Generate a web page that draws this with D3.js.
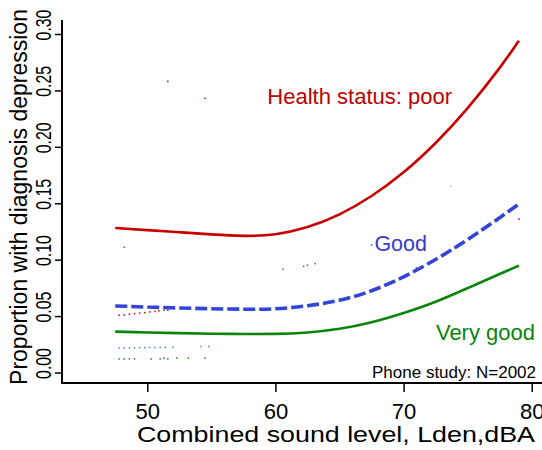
<!DOCTYPE html>
<html>
<head>
<meta charset="utf-8">
<script src="https://cdn.jsdelivr.net/npm/d3@7"></script>
<style>
  html, body { margin: 0; padding: 0; background: #fff; }
  svg { display: block; font-family: "Liberation Sans", Arial, sans-serif; }
</style>
</head>
<body>
<svg id="chart" width="542" height="450"></svg>
<script>
// Sound level (Lden, dBA) at which the fitted proportions are evaluated
const soundLevel = [47.5, 50, 52.5, 55, 57.5, 60, 62.5, 65, 67.5, 70, 72.5, 75, 77.5, 79];

// Fitted proportion with diagnosed depression, by self-rated health status
const poorHealth     = [0.128, 0.1262, 0.1243, 0.1224, 0.1211, 0.1226, 0.1289, 0.1402, 0.1564, 0.1774, 0.2034, 0.2343, 0.270, 0.294];
const goodHealth     = [0.059, 0.058, 0.0572, 0.0565, 0.0561, 0.0565, 0.0592, 0.064, 0.0725, 0.0848, 0.1002, 0.1178, 0.1372, 0.1493];
const veryGoodHealth = [0.0362, 0.0355, 0.0349, 0.0344, 0.0341, 0.0342, 0.0355, 0.0387, 0.0445, 0.0527, 0.0627, 0.0748, 0.0873, 0.0947];

// Faint dotted traces near the low end of the sound range
const poorTraceX = [47.8, 48.2, 48.6, 49.0, 49.4, 49.8, 50.2, 50.6, 50.9, 51.3, 51.6];
const poorTraceY = [0.0507, 0.0510, 0.0517, 0.0522, 0.0527, 0.0531, 0.0537, 0.0541, 0.0546, 0.0551, 0.0554];
const goodTraceX = [47.8, 48.2, 48.6, 49.0, 49.4, 49.8, 50.2, 50.6, 51.0, 51.4, 52.0, 54.2, 54.8];
const goodTraceY = [0.0217, 0.0217, 0.0219, 0.0219, 0.0220, 0.0220, 0.0222, 0.0222, 0.0222, 0.0222, 0.0222, 0.0230, 0.0230];
const veryGoodTraceX = [47.8, 48.2, 48.6, 49.0, 50.3, 51.0, 51.3, 51.6, 52.3, 53.2, 54.5];
const veryGoodTraceY = [0.0120, 0.0120, 0.0120, 0.0120, 0.0120, 0.0120, 0.0128, 0.0120, 0.0128, 0.0128, 0.0128];

// Isolated specks scattered over the plot area
const speckX = [48.2, 51.6, 54.5, 60.6, 62.2, 62.5, 63.1, 67.5, 71.0, 73.7, 79.0];
const speckY = [0.111, 0.258, 0.243, 0.0915, 0.094, 0.095, 0.0965, 0.113, 0.0926, 0.165, 0.136];
const speckColor = ["#1a8a1a", "#b00000", "#b00000", "#1a8a1a", "#1a8a1a", "#1a8a1a", "#1a8a1a", "#1a8a1a", "#b00000", "#9ccf9c", "#b00000"];

// Axis ticks
const xTicks = [50, 60, 70, 80];
const yTicks = [0.00, 0.05, 0.10, 0.15, 0.20, 0.25, 0.30];

const svg = d3.select("#chart");

const x = d3.scaleLinear().domain([50, 80]).range([147.3, 531.7]);
const y = d3.scaleLinear().domain([0, 0.30]).range([372.5, 34]);

const axisLeftX = 62, axisBottomY = 383;

// L-shaped frame
svg.append("line")
  .attr("x1", axisLeftX).attr("x2", axisLeftX)
  .attr("y1", 20).attr("y2", axisBottomY + 1)
  .attr("stroke", "#000").attr("stroke-width", 2);
svg.append("line")
  .attr("x1", axisLeftX - 1).attr("x2", 542)
  .attr("y1", axisBottomY).attr("y2", axisBottomY)
  .attr("stroke", "#000").attr("stroke-width", 2);

// X axis ticks and labels
const xAxis = d3.axisBottom(x).tickValues(xTicks).tickFormat(d3.format("d"))
  .tickSize(9).tickPadding(11);
const gx = svg.append("g").attr("transform", `translate(0,${axisBottomY})`).call(xAxis);
gx.select(".domain").remove();
gx.selectAll(".tick line").attr("stroke", "#000").attr("stroke-width", 1.5);
gx.selectAll(".tick text")
  .attr("font-family", "Liberation Sans, Arial, sans-serif")
  .attr("font-size", 22).attr("fill", "#000");

// Y axis ticks, labels drawn parallel to the axis
const yAxis = d3.axisLeft(y).tickValues(yTicks).tickSize(7).tickFormat("");
const gy = svg.append("g").attr("transform", `translate(${axisLeftX},0)`).call(yAxis);
gy.select(".domain").remove();
gy.selectAll(".tick line").attr("stroke", "#000").attr("stroke-width", 1.5);

svg.append("g").selectAll("text")
  .data(yTicks)
  .join("text")
  .attr("transform", d => `translate(51,${y(d) - 9}) rotate(-90) scale(0.72,1)`)
  .attr("text-anchor", "middle")
  .attr("font-size", 22)
  .attr("fill", "#000")
  .text(d3.format(".2f"));

// Axis titles
svg.append("text")
  .attr("transform", "translate(27,197) rotate(-90)")
  .attr("text-anchor", "middle")
  .attr("font-size", 23)
  .attr("fill", "#000")
  .text("Proportion with diagnosis depression");

svg.append("text")
  .attr("x", 137).attr("y", 442)
  .attr("font-size", 22.5)
  .attr("textLength", 398)
  .attr("lengthAdjust", "spacingAndGlyphs")
  .attr("fill", "#000")
  .text("Combined sound level, Lden,dBA");

// Faint traces and specks
const traces = [
  { xs: poorTraceX, ys: poorTraceY, color: "#c00000" },
  { xs: goodTraceX, ys: goodTraceY, color: "#3a8ef0" },
  { xs: veryGoodTraceX, ys: veryGoodTraceY, color: "#1a8a1a" }
];
traces.forEach(t => {
  svg.append("g").selectAll("rect")
    .data(t.xs.map((v, i) => [v, t.ys[i]]))
    .join("rect")
    .attr("x", d => x(d[0]) - 0.75).attr("y", d => y(d[1]) - 0.75)
    .attr("width", 1.5).attr("height", 1.5)
    .attr("fill", t.color);
});
svg.append("g").selectAll("rect")
  .data(speckX.map((v, i) => [v, speckY[i], speckColor[i]]))
  .join("rect")
  .attr("x", d => x(d[0]) - 0.75).attr("y", d => y(d[1]) - 0.75)
  .attr("width", 1.5).attr("height", 1.5)
  .attr("fill", d => d[2]);

// Fitted curves
const line = d3.line()
  .x(d => x(d[0]))
  .y(d => y(d[1]))
  .curve(d3.curveNatural);

const series = [
  { values: poorHealth, color: "#c80000", width: 2.6, dash: null },
  { values: goodHealth, color: "#3344d6", width: 3.6, dash: "12,4" },
  { values: veryGoodHealth, color: "#0a850a", width: 2.6, dash: null }
];
series.forEach(s => {
  svg.append("path")
    .datum(soundLevel.map((v, i) => [v, s.values[i]]))
    .attr("d", line)
    .attr("fill", "none")
    .attr("stroke", s.color)
    .attr("stroke-width", s.width)
    .attr("stroke-dasharray", s.dash);
});

// Curve labels
svg.append("text").attr("x", 452).attr("y", 104).attr("text-anchor", "end")
  .attr("font-size", 22).attr("fill", "#c00000").text("Health status: poor");
svg.append("text").attr("x", 427).attr("y", 251).attr("text-anchor", "end")
  .attr("font-size", 21.5).attr("fill", "#3a3ac8").text("Good");
svg.append("text").attr("x", 535).attr("y", 340).attr("text-anchor", "end")
  .attr("font-size", 22).attr("fill", "#0a850a").text("Very good");
svg.append("text").attr("x", 536).attr("y", 378).attr("text-anchor", "end")
  .attr("font-size", 17).attr("fill", "#000").text("Phone study: N=2002");
</script>
</body>
</html>
